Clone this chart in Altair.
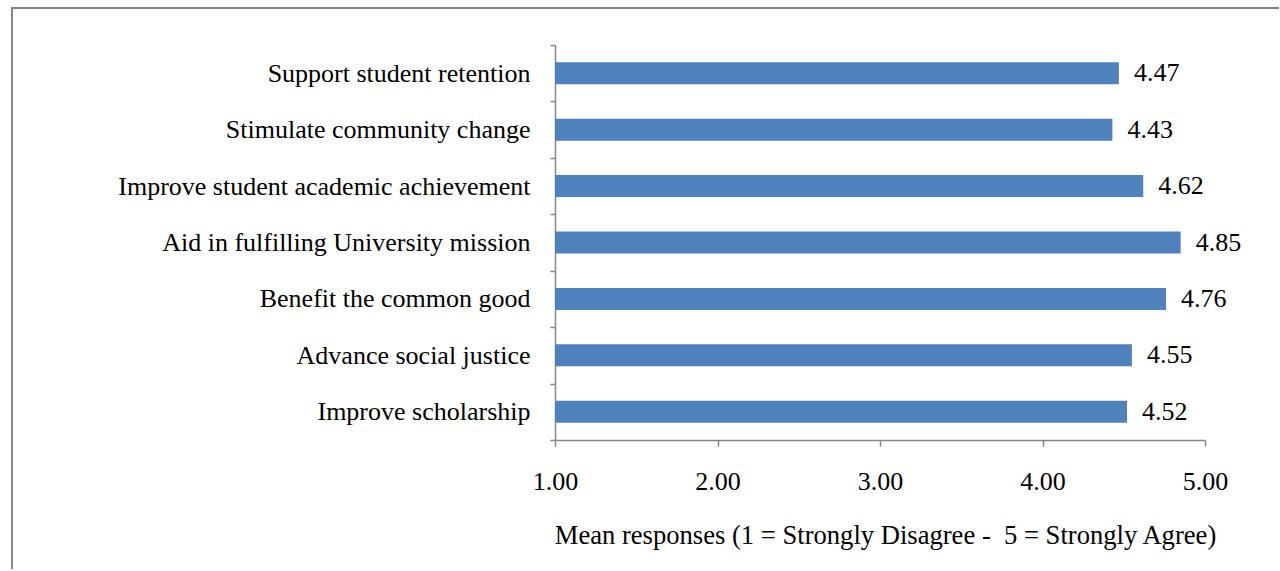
import altair as alt
import pandas as pd

categories = [
    "Support student retention",
    "Stimulate community change",
    "Improve student academic achievement",
    "Aid in fulfilling University mission",
    "Benefit the common good",
    "Advance social justice",
    "Improve scholarship",
]
values = [4.47, 4.43, 4.62, 4.85, 4.76, 4.55, 4.52]
x_ticks = [1, 2, 3, 4, 5]

df = pd.DataFrame({"item": categories, "mean": values})

FONT = "Liberation Serif"
GRAY = "#868686"
BLUE = "#4F81BD"

base = alt.Chart(df)

y_enc = alt.Y(
    "item:N",
    sort=categories,
    scale=alt.Scale(paddingInner=0, paddingOuter=0),
    axis=alt.Axis(
        title=None,
        tickBand="extent",
        tickSize=5,
        labelPadding=20,
        labelLimit=600,
    ),
)

bars = base.mark_bar(color=BLUE, size=22).encode(
    x=alt.X(
        "mean:Q",
        scale=alt.Scale(domain=[1, 5], zero=False, nice=False),
        axis=alt.Axis(
            values=x_ticks,
            format=".2f",
            tickSize=6,
            labelPadding=22,
            labelFlush=False,
            title="Mean responses (1 = Strongly Disagree - \u00a05 = Strongly Agree)",
            titlePadding=28,
            titleFontSize=26.6,
            titleFontWeight="normal",
            titleFont=FONT,
            titleColor="black",
            titleX=330,
            grid=False,
        ),
    ),
    x2=alt.datum(1),
    y=y_enc,
)

labels = base.mark_text(
    align="left", baseline="middle", dx=15, font=FONT, fontSize=26, color="black"
).encode(
    x="mean:Q",
    y=alt.Y("item:N", sort=categories),
    text=alt.Text("mean:Q", format=".2f"),
)

frame_df = pd.DataFrame({"k": [0]})
frame_left = alt.Chart(frame_df).mark_rule(color=GRAY, strokeWidth=2).encode(
    x=alt.value(-543), y=alt.value(-37), y2=alt.value(524)
)
frame_top = alt.Chart(frame_df).mark_rule(color=GRAY, strokeWidth=2).encode(
    x=alt.value(-544), x2=alt.value(724), y=alt.value(-37)
)

chart = (
    alt.layer(bars, labels, frame_left, frame_top)
    .properties(width=650, height=395, padding={"left": 10, "top": 7, "right": 0, "bottom": 0})
    .configure(background="white")
    .configure_view(stroke=None)
    .configure_axis(
        labelFont=FONT,
        labelFontSize=26,
        labelColor="black",
        domainColor=GRAY,
        tickColor=GRAY,
        domainWidth=1.5,
        tickWidth=1.5,
        grid=False,
    )
)

chart.save("out.html", embed_options={"renderer": "svg", "actions": False})
